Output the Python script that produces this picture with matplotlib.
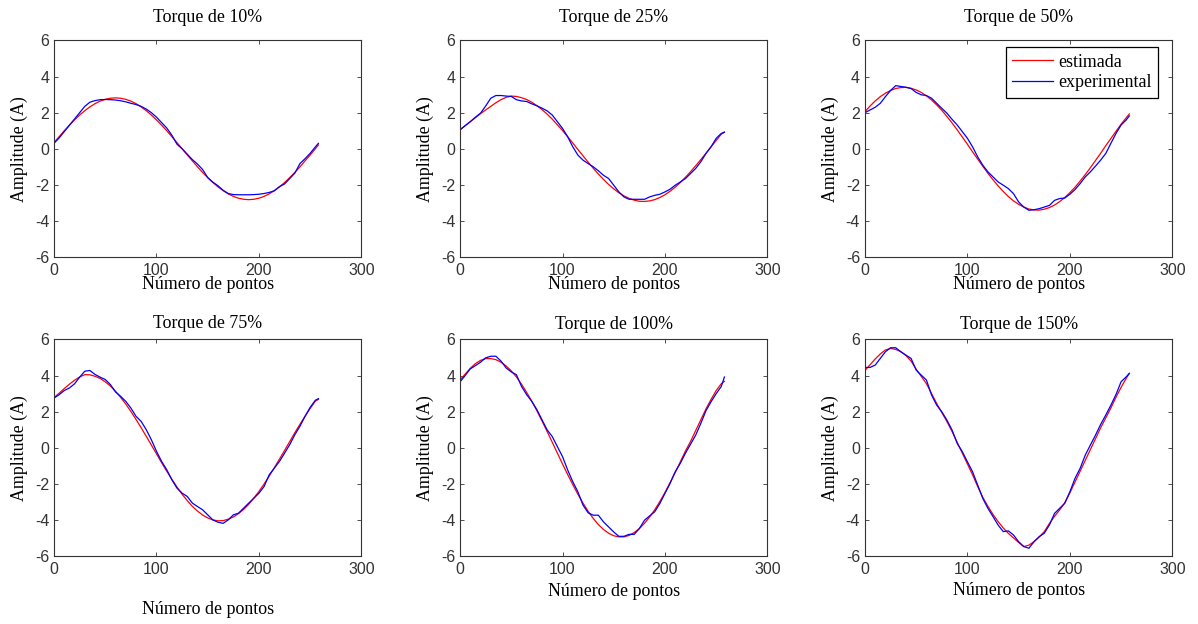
import matplotlib
matplotlib.use('Agg')
import matplotlib.pyplot as plt

# sample index (Número de pontos)
pontos = [0, 5, 10, 15, 20, 25, 30, 35, 40, 45,
          50, 55, 60, 65, 70, 75, 80, 85, 90, 95,
          100, 105, 110, 115, 120, 125, 130, 135, 140, 145,
          150, 155, 160, 165, 170, 175, 180, 185, 190, 195,
          200, 205, 210, 215, 220, 225, 230, 235, 240, 245,
          250, 255, 258]

titulos = ['Torque de 10%', 'Torque de 25%', 'Torque de 50%',
           'Torque de 75%', 'Torque de 100%', 'Torque de 150%']

# torque 10%
estimada_10 = [0.34, 0.67, 1.00, 1.31, 1.60, 1.87, 2.11, 2.32, 2.50, 2.64,
               2.74, 2.80, 2.82, 2.80, 2.74, 2.64, 2.50, 2.32, 2.11, 1.87,
               1.60, 1.31, 1.00, 0.67, 0.34, 0.00, -0.34, -0.67, -1.00, -1.31,
               -1.60, -1.87, -2.11, -2.32, -2.50, -2.64, -2.74, -2.80, -2.82, -2.80,
               -2.74, -2.64, -2.50, -2.32, -2.11, -1.87, -1.60, -1.31, -1.00, -0.67,
               -0.34, 0.00, 0.21]
experimental_10 = [0.30, 0.60, 0.95, 1.30, 1.65, 2.00, 2.35, 2.58, 2.67, 2.72,
                   2.73, 2.72, 2.70, 2.66, 2.60, 2.52, 2.45, 2.35, 2.20, 2.00,
                   1.75, 1.45, 1.15, 0.75, 0.25, 0.00, -0.30, -0.60, -0.85, -1.15,
                   -1.60, -1.85, -2.05, -2.30, -2.48, -2.54, -2.55, -2.55, -2.55, -2.54,
                   -2.52, -2.48, -2.42, -2.33, -2.10, -1.95, -1.65, -1.35, -0.82, -0.55,
                   -0.25, 0.10, 0.30]

# torque 25%
estimada_25 = [1.05, 1.28, 1.50, 1.72, 1.95, 2.15, 2.35, 2.55, 2.72, 2.85,
               2.92, 2.90, 2.83, 2.73, 2.58, 2.39, 2.17, 1.92, 1.64, 1.33,
               1.01, 0.67, 0.32, -0.04, -0.39, -0.74, -1.08, -1.40, -1.70, -1.98,
               -2.22, -2.44, -2.61, -2.75, -2.85, -2.91, -2.92, -2.89, -2.82, -2.70,
               -2.55, -2.35, -2.13, -1.87, -1.58, -1.27, -0.94, -0.60, -0.25, 0.11,
               0.46, 0.81, 0.92]
experimental_25 = [1.05, 1.28, 1.50, 1.75, 1.97, 2.37, 2.80, 2.95, 2.95, 2.92,
                   2.90, 2.72, 2.65, 2.62, 2.49, 2.38, 2.25, 2.10, 1.87, 1.50,
                   1.13, 0.67, 0.11, -0.35, -0.63, -0.82, -1.00, -1.22, -1.47, -1.65,
                   -2.02, -2.39, -2.67, -2.80, -2.80, -2.80, -2.80, -2.67, -2.58, -2.52,
                   -2.39, -2.24, -2.02, -1.84, -1.65, -1.37, -1.09, -0.72, -0.26, 0.11,
                   0.58, 0.85, 0.92]

# torque 50%
estimada_50 = [2.06, 2.37, 2.65, 2.89, 3.08, 3.23, 3.34, 3.39, 3.40, 3.35,
               3.26, 3.12, 2.93, 2.70, 2.43, 2.13, 1.79, 1.43, 1.05, 0.65,
               0.25, -0.17, -0.57, -0.97, -1.36, -1.72, -2.06, -2.37, -2.65, -2.89,
               -3.08, -3.23, -3.34, -3.39, -3.40, -3.35, -3.26, -3.12, -2.93, -2.70,
               -2.43, -2.13, -1.79, -1.43, -1.05, -0.65, -0.25, 0.17, 0.57, 0.97,
               1.36, 1.72, 1.93]
experimental_50 = [2.00, 2.15, 2.30, 2.52, 2.89, 3.23, 3.50, 3.45, 3.41, 3.34,
                   3.12, 2.99, 2.95, 2.80, 2.52, 2.24, 1.97, 1.63, 1.32, 0.95,
                   0.58, 0.11, -0.45, -0.91, -1.28, -1.56, -1.84, -2.02, -2.21, -2.49,
                   -2.95, -3.23, -3.41, -3.38, -3.32, -3.23, -3.14, -2.86, -2.76, -2.73,
                   -2.52, -2.26, -1.93, -1.56, -1.28, -0.96, -0.63, -0.26, 0.30, 0.85,
                   1.32, 1.60, 1.82]

# torque 75%
estimada_75 = [2.78, 3.02, 3.28, 3.52, 3.74, 3.92, 4.05, 4.04, 3.96, 3.84,
               3.65, 3.42, 3.13, 2.79, 2.42, 2.01, 1.57, 1.11, 0.63, 0.15,
               -0.34, -0.83, -1.30, -1.75, -2.18, -2.58, -2.93, -3.25, -3.51, -3.73,
               -3.89, -4.00, -4.05, -4.04, -3.96, -3.84, -3.65, -3.42, -3.13, -2.79,
               -2.42, -2.01, -1.57, -1.11, -0.63, -0.15, 0.34, 0.83, 1.30, 1.75,
               2.18, 2.58, 2.68]
experimental_75 = [2.75, 2.94, 3.17, 3.31, 3.54, 3.91, 4.24, 4.28, 4.06, 3.91,
                   3.78, 3.50, 3.09, 2.85, 2.57, 2.20, 1.74, 1.46, 1.00, 0.44,
                   -0.20, -0.76, -1.22, -1.78, -2.24, -2.52, -2.70, -3.07, -3.26, -3.44,
                   -3.72, -4.00, -4.13, -4.19, -4.00, -3.72, -3.63, -3.35, -3.07, -2.80,
                   -2.52, -2.15, -1.50, -1.13, -0.76, -0.30, 0.17, 0.72, 1.19, 1.74,
                   2.24, 2.63, 2.72]

# torque 100%
estimada_100 = [3.75, 4.08, 4.40, 4.66, 4.84, 4.94, 4.94, 4.88, 4.74, 4.53,
                4.26, 3.92, 3.52, 3.07, 2.58, 2.05, 1.48, 0.90, 0.30, -0.30,
                -0.90, -1.48, -2.04, -2.58, -3.07, -3.52, -3.92, -4.26, -4.53, -4.74,
                -4.88, -4.94, -4.94, -4.86, -4.70, -4.48, -4.19, -3.84, -3.44, -2.98,
                -2.48, -1.93, -1.37, -0.78, -0.18, 0.35, 0.95, 1.55, 2.15, 2.68,
                3.17, 3.55, 3.68]
experimental_100 = [3.65, 4.00, 4.37, 4.55, 4.74, 4.98, 5.07, 5.07, 4.80, 4.42,
                    4.20, 4.05, 3.40, 2.94, 2.57, 2.11, 1.55, 0.99, 0.62, 0.06,
                    -0.49, -1.23, -1.88, -2.44, -3.18, -3.61, -3.74, -3.74, -4.11, -4.39,
                    -4.67, -4.91, -4.91, -4.80, -4.80, -4.48, -4.02, -3.78, -3.55, -3.09,
                    -2.53, -1.98, -1.33, -0.86, -0.30, 0.20, 0.70, 1.35, 2.05, 2.55,
                    3.00, 3.40, 3.92]

# torque 150%
estimada_150 = [4.28, 4.60, 4.92, 5.20, 5.42, 5.50, 5.45, 5.32, 5.11, 4.80,
                4.35, 3.95, 3.55, 3.00, 2.45, 1.95, 1.45, 0.90, 0.30, -0.30,
                -0.90, -1.50, -2.15, -2.75, -3.25, -3.70, -4.10, -4.45, -4.75, -5.00,
                -5.25, -5.48, -5.40, -5.20, -4.95, -4.65, -4.20, -3.80, -3.45, -3.05,
                -2.50, -1.90, -1.30, -0.70, -0.10, 0.50, 1.10, 1.65, 2.20, 2.80,
                3.35, 3.85, 4.12]
experimental_150 = [4.45, 4.45, 4.58, 4.95, 5.32, 5.54, 5.54, 5.32, 5.13, 4.95,
                    4.30, 4.02, 3.75, 2.92, 2.36, 1.99, 1.53, 0.98, 0.24, -0.22,
                    -0.78, -1.33, -2.07, -2.81, -3.36, -3.82, -4.29, -4.65, -4.61, -4.84,
                    -5.21, -5.48, -5.57, -5.21, -4.93, -4.74, -4.28, -3.64, -3.36, -3.08,
                    -2.44, -1.70, -1.14, -0.41, 0.15, 0.70, 1.29, 1.81, 2.36, 2.95,
                    3.66, 3.93, 4.12]

estimadas = [estimada_10, estimada_25, estimada_50,
             estimada_75, estimada_100, estimada_150]
experimentais = [experimental_10, experimental_25, experimental_50,
                 experimental_75, experimental_100, experimental_150]

plt.rcParams['axes.unicode_minus'] = False
serif = 'Liberation Serif'
fs = 12.9

fig = plt.figure(figsize=(11.98, 6.24), dpi=100)

lefts = [0.0451, 0.384, 0.722]
bottoms = [0.5881, 0.109]
xlabel_y = [-0.125, -0.125, -0.125, -0.248, -0.164, -0.158]
title_y = [1.106, 1.106, 1.106, 1.072, 1.070, 1.068]

for i in range(6):
    row = i // 3
    col = i % 3
    ax = fig.add_axes([lefts[col], bottoms[row], 0.2566, 0.347])

    ax.plot(pontos, estimadas[i], color='#ff0000', lw=0.9, label='estimada')
    ax.plot(pontos, experimentais[i], color='#0000ff', lw=0.9,
            label='experimental')

    ax.set_xlim(0, 300)
    ax.set_ylim(-6, 6)
    ax.set_xticks([0, 100, 200, 300])
    ax.set_yticks([-6, -4, -2, 0, 2, 4, 6])
    ax.tick_params(direction='in', top=True, right=True, length=3,
                   width=0.6, labelsize=11.5, colors='#333333')
    ax.tick_params(axis='x', pad=4.0)
    ax.tick_params(axis='y', pad=3.5)
    for lab in ax.get_xticklabels() + ax.get_yticklabels():
        lab.set_family('Liberation Sans')
    for sp in ax.spines.values():
        sp.set_linewidth(0.8)
        sp.set_color('#333333')

    ax.set_xlabel('Número de pontos', family=serif, fontsize=fs, va='center')
    ax.xaxis.set_label_coords(0.5, xlabel_y[i])
    ax.set_ylabel('Amplitude (A)', family=serif, fontsize=fs, va='center')
    ax.yaxis.set_label_coords(-0.113, 0.5)
    ax.text(0.5, title_y[i], titulos[i], transform=ax.transAxes,
            ha='center', va='center', family=serif, fontsize=fs)

    if i == 2:
        leg = ax.legend(loc='upper right', bbox_to_anchor=(0.954, 0.968),
                        borderaxespad=0, fancybox=False, framealpha=1,
                        edgecolor='black', handlelength=2.3,
                        handletextpad=0.3, borderpad=0.35, labelspacing=0.2,
                        prop={'family': serif, 'size': fs})
        leg.get_frame().set_linewidth(0.9)

fig.savefig('out.png', dpi=100)
